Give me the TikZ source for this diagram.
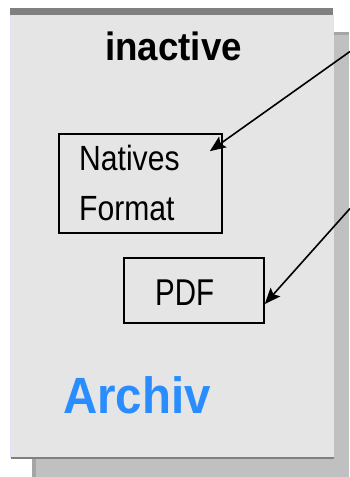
\documentclass[tikz,border=0pt]{standalone}
\usepackage{fontspec}
\setmainfont{Liberation Sans}
\newfontfamily\titlefont[FakeStretch=0.93]{Liberation Sans}
\newfontfamily\archfont[FakeStretch=0.93]{Liberation Sans}
\newfontfamily\natfont[FakeStretch=0.86]{Liberation Sans}
\newfontfamily\pdffont[FakeStretch=0.79]{Liberation Sans}
\usetikzlibrary{arrows.meta,calc}
\definecolor{panelgray}{RGB}{229,229,229}
\definecolor{shadowgray}{RGB}{192,192,192}
\definecolor{shadowedge}{RGB}{165,165,165}
\definecolor{bandgray}{RGB}{128,128,128}
\definecolor{lavender}{RGB}{224,224,255}
\definecolor{archblue}{RGB}{41,141,255}
\tikzset{
  fmtbox/.style={draw=black, line width=1.6pt, inner sep=0pt, fill=none},
  lbl/.style={inner sep=0pt, anchor=base west},
  ptr/.style={draw=black, line width=1.6pt, -{Stealth[length=16pt,width=13pt,inset=3pt]}}
}
\begin{document}
\begin{tikzpicture}[x=1pt,y=-1pt]
\useasboundingbox (0,0) rectangle (349,477);
% shadow panel
\fill[shadowgray] (32,32) rectangle (349,477);
\fill[shadowedge] (32,32) rectangle (349,35);
\fill[shadowedge] (32,35) rectangle (35.5,477);
% main panel
\fill[panelgray] (10,8) rectangle (333,458);
\fill[bandgray] (10,8) rectangle (333,15);
\fill[lavender] (9.5,15) rectangle (11,457);
\fill[lavender] (332.5,15) rectangle (334,457);
\fill[bandgray] (11,456.7) rectangle (334,458.7);
% texts
\node[inner sep=0pt, anchor=base] (title) at (173.5,60) {\titlefont\bfseries\fontsize{39.5}{40}\selectfont inactive};
\node[lbl, text=archblue] (arch) at (63,413) {\archfont\bfseries\fontsize{51}{52}\selectfont Archiv};
% boxes
\node[fmtbox, minimum width=163pt, minimum height=99pt] (nat) at (140.5,183.5) {};
\node[lbl] (nat1) at (79,170) {\natfont\fontsize{35}{36}\selectfont Natives};
\node[lbl] (nat2) at (79,220) {\natfont\fontsize{35}{36}\selectfont Format};
\node[fmtbox, minimum width=140pt, minimum height=65pt] (pdf) at (194,290.5) {};
\node[lbl] (pdft) at (155,305) {\pdffont\fontsize{37.3}{38}\selectfont PDF};
% connectors
\coordinate (s1) at (350,51.5);
\coordinate (s2) at (350,208.5);
\draw[ptr] (s1) -- ($(nat.north east)+(-13,18)$);
\draw[ptr] (s2) -- ($(pdf.east)+(0,13.5)$);
\end{tikzpicture}
\end{document}
